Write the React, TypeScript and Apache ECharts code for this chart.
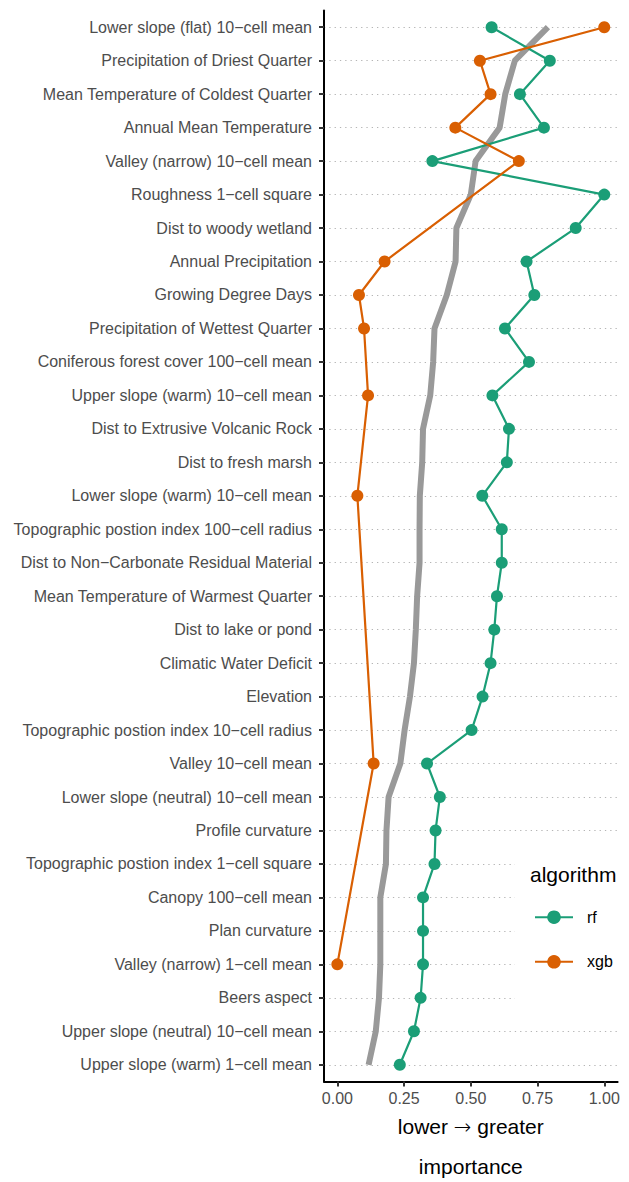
import React, { useEffect, useRef } from "react";
import * as echarts from "echarts";

const FONT = "'Liberation Sans', Arial, Helvetica, sans-serif";

const categories: string[] = [
  "Lower slope (flat) 10−cell mean",
  "Precipitation of Driest Quarter",
  "Mean Temperature of Coldest Quarter",
  "Annual Mean Temperature",
  "Valley (narrow) 10−cell mean",
  "Roughness 1−cell square",
  "Dist to woody wetland",
  "Annual Precipitation",
  "Growing Degree Days",
  "Precipitation of Wettest Quarter",
  "Coniferous forest cover 100−cell mean",
  "Upper slope (warm) 10−cell mean",
  "Dist to Extrusive Volcanic Rock",
  "Dist to fresh marsh",
  "Lower slope (warm) 10−cell mean",
  "Topographic postion index 100−cell radius",
  "Dist to Non−Carbonate Residual Material",
  "Mean Temperature of Warmest Quarter",
  "Dist to lake or pond",
  "Climatic Water Deficit",
  "Elevation",
  "Topographic postion index 10−cell radius",
  "Valley 10−cell mean",
  "Lower slope (neutral) 10−cell mean",
  "Profile curvature",
  "Topographic postion index 1−cell square",
  "Canopy 100−cell mean",
  "Plan curvature",
  "Valley (narrow) 1−cell mean",
  "Beers aspect",
  "Upper slope (neutral) 10−cell mean",
  "Upper slope (warm) 1−cell mean",
];

const rfValues: number[] = [
  0.578, 0.796, 0.684, 0.774, 0.356, 1.0, 0.893, 0.709, 0.738, 0.628,
  0.718, 0.581, 0.643, 0.635, 0.543, 0.616, 0.616, 0.598, 0.588, 0.574,
  0.544, 0.503, 0.336, 0.384, 0.368, 0.364, 0.321, 0.321, 0.321, 0.312,
  0.287, 0.234,
];

const xgbValues: (number | null)[] = [
  1.0, 0.534, 0.574, 0.442, 0.68, null, null, 0.177, 0.081, 0.1,
  null, 0.115, null, null, 0.075, null, null, null, null, null,
  null, null, 0.136, null, null, null, null, null, 0.0, null,
  null, null,
];

const meanValues: number[] = [
  0.789, 0.665, 0.629, 0.608, 0.518, 0.5, 0.446, 0.443, 0.41, 0.364,
  0.359, 0.348, 0.321, 0.318, 0.309, 0.308, 0.308, 0.299, 0.294, 0.287,
  0.272, 0.252, 0.236, 0.192, 0.184, 0.182, 0.161, 0.161, 0.161, 0.156,
  0.144, 0.117,
];

const xTicks: number[] = [0, 0.25, 0.5, 0.75, 1];

const RF_COLOR = "#1B9E77";
const XGB_COLOR = "#D95F02";

export default function App() {
  const ref = useRef<HTMLDivElement>(null);

  useEffect(() => {
    if (!ref.current) return;
    const chart = echarts.init(ref.current, null, { renderer: "svg" });
    const option: any = {
      animation: false,
      textStyle: { fontFamily: FONT },
      grid: { left: 324, right: 11.4, top: 10.5, bottom: 97, containLabel: false },
      xAxis: {
        type: "value",
        min: -0.05,
        max: 1.05,
        axisLine: { show: true, onZero: false, lineStyle: { color: "#000", width: 2 } },
        axisTick: {
          show: true,
          length: 5,
          customValues: xTicks,
          lineStyle: { color: "#333", width: 2 },
        },
        axisLabel: {
          customValues: xTicks,
          formatter: (v: number) => v.toFixed(2),
          color: "#4d4d4d",
          fontSize: 16,
          fontFamily: FONT,
          margin: 9,
        },
        splitLine: { show: false },
        name: "lower {arr|→} greater\n\nimportance",
        nameLocation: "middle",
        nameGap: 35,
        nameTextStyle: {
          fontSize: 21,
          color: "#000",
          lineHeight: 20,
          fontFamily: FONT,
          rich: {
            arr: {
              fontSize: 21,
              fontFamily: "'DejaVu Sans', sans-serif",
              fontWeight: 200,
              color: "#000",
              lineHeight: 20,
            },
          },
        },
      },
      yAxis: {
        type: "category",
        data: categories,
        inverse: true,
        axisLine: { show: true, onZero: false, lineStyle: { color: "#000", width: 2 } },
        axisTick: {
          show: true,
          alignWithLabel: true,
          interval: 0,
          length: 5,
          lineStyle: { color: "#333", width: 2 },
        },
        axisLabel: {
          interval: 0,
          color: "#4d4d4d",
          fontSize: 16,
          fontFamily: FONT,
          margin: 12,
        },
        splitLine: {
          show: true,
          alignWithLabel: true,
          interval: 0,
          lineStyle: { type: [1.3, 4], color: "#b5b5b5", width: 1.2 },
        },
      },
      legend: {
        data: ["rf", "xgb"],
        orient: "vertical",
        left: 515,
        top: 845,
        padding: [64.2, 20, 43.2, 19],
        backgroundColor: "#fff",
        itemWidth: 38,
        itemHeight: 17,
        itemGap: 28.6,
        selectedMode: false,
        textStyle: { fontSize: 16, color: "#000", fontFamily: FONT, padding: [0, 0, 0, 9] },
      },
      graphic: [
        {
          type: "text",
          left: 530,
          top: 864,
          z: 100,
          style: { text: "algorithm", fontSize: 21, fill: "#000", fontFamily: FONT },
        },
      ],
      series: [
        {
          type: "line",
          name: "mean",
          data: meanValues,
          symbol: "none",
          silent: true,
          lineStyle: { color: "#999999", width: 6, cap: "butt" },
          z: 1,
        },
        {
          type: "line",
          name: "rf",
          data: rfValues,
          symbol: "circle",
          symbolSize: 12,
          itemStyle: { color: RF_COLOR },
          lineStyle: { color: RF_COLOR, width: 2.2 },
          z: 2,
        },
        {
          type: "line",
          name: "xgb",
          data: xgbValues,
          connectNulls: true,
          symbol: "circle",
          symbolSize: 12,
          itemStyle: { color: XGB_COLOR },
          lineStyle: { color: XGB_COLOR, width: 2.2 },
          z: 3,
        },
      ],
    };
    chart.setOption(option);
    return () => chart.dispose();
  }, []);

  return (
    <div
      ref={ref}
      style={{ position: "absolute", left: 0, top: 0, width: 629, height: 1182, background: "#fff" }}
    />
  );
}
